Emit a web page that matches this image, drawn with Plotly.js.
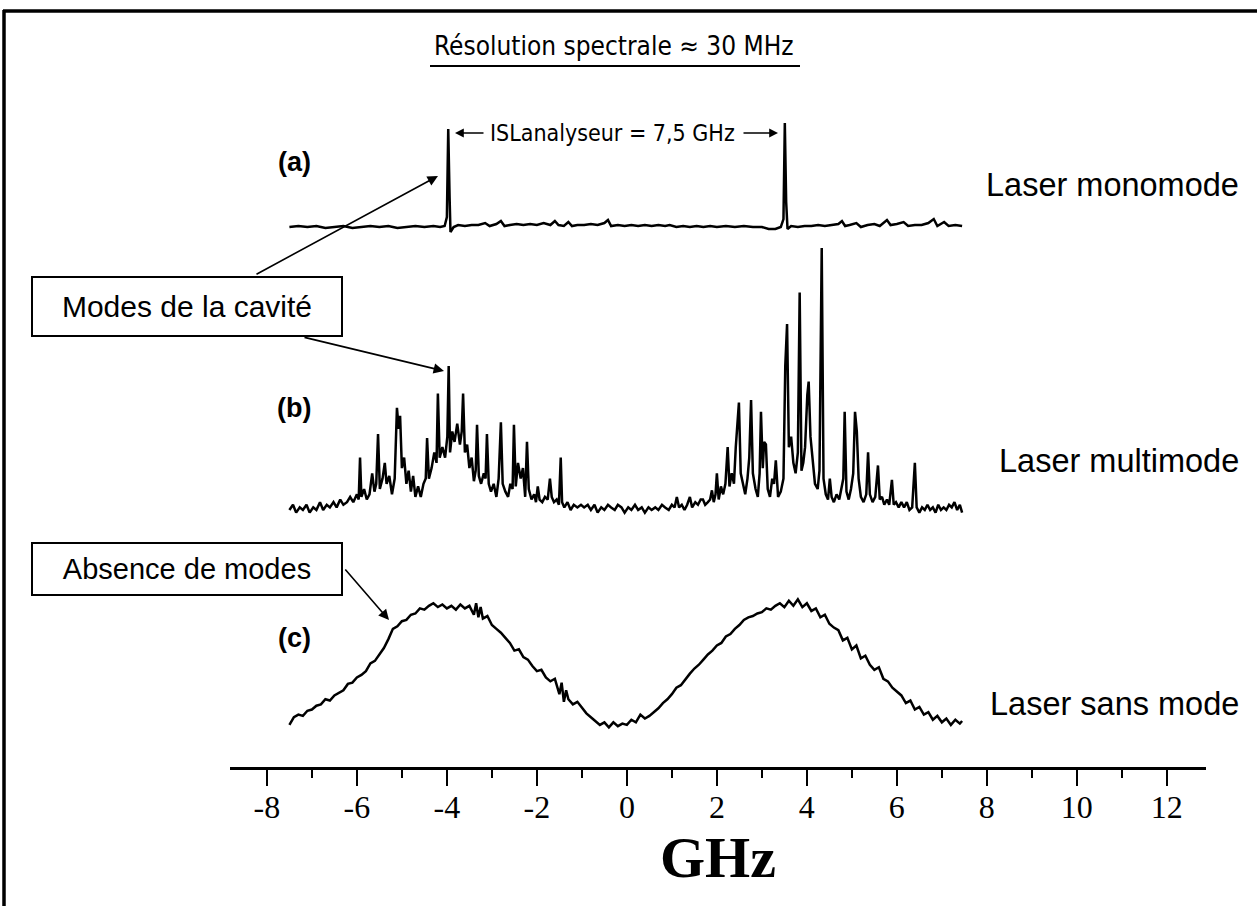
<!DOCTYPE html>
<html>
<head>
<meta charset="utf-8">
<script src="https://cdn.plot.ly/plotly-3.0.1.min.js"></script>
<style>html,body{margin:0;padding:0;background:#fff;}#chart{width:1257px;height:906px;}</style>
</head>
<body>
<div id="chart"></div>
<script>
// ---- Data (frequency in GHz, relative intensity) ----
const tickVals = [-8, -6, -4, -2, 0, 2, 4, 6, 8, 10, 12];
const tickText = ['-8', '-6', '-4', '-2', '0', '2', '4', '6', '8', '10', '12'];
const minorVals = [-7, -5, -3, -1, 1, 3, 5, 7, 9, 11];

const seriesNames = ['Laser monomode', 'Laser multimode', 'Laser sans mode'];
const panelLabels = ['(a)', '(b)', '(c)'];

// (a) single-mode laser
const specA = [
[-7.5,0.00],[-7.3,0.01],[-7.1,0.00],[-6.9,0.01],[-6.7,-0.01],[-6.5,0.00],[-6.3,0.01],[-6.1,-0.01],
[-5.9,0.00],[-5.7,0.01],[-5.5,0.00],[-5.3,0.01],[-5.1,-0.01],[-4.9,0.00],[-4.7,0.01],[-4.5,0.00],
[-4.3,0.01],[-4.15,0.00],[-4.05,0.01],[-4.0,0.10],[-3.97,0.98],[-3.94,0.30],[-3.92,-0.05],[-3.85,0.00],
[-3.75,0.02],[-3.6,0.01],[-3.45,0.02],[-3.3,0.02],[-3.15,0.04],[-3.05,0.01],[-2.9,0.03],[-2.8,0.06],
[-2.72,0.01],[-2.6,0.02],[-2.45,0.03],[-2.3,0.02],[-2.15,0.03],[-2.0,0.02],[-1.85,0.04],[-1.7,0.02],
[-1.6,0.06],[-1.52,0.02],[-1.4,0.01],[-1.3,0.05],[-1.22,0.01],[-1.1,0.02],[-0.95,0.02],[-0.8,0.03],
[-0.65,0.02],[-0.5,0.04],[-0.42,0.07],[-0.35,0.01],[-0.2,0.02],[-0.05,0.01],[0.1,0.02],[0.25,0.01],
[0.4,0.02],[0.55,0.01],[0.7,0.02],[0.85,0.01],[0.95,0.02],[1.1,0.00],[1.25,0.01],[1.4,0.00],
[1.55,0.01],[1.7,0.00],[1.85,0.01],[2.0,0.00],[2.2,0.01],[2.4,0.00],[2.6,0.01],[2.8,0.00],
[3.0,0.00],[3.15,-0.02],[3.3,-0.02],[3.42,0.00],[3.48,0.08],[3.51,1.04],[3.54,0.25],[3.57,-0.02],
[3.65,0.01],[3.8,0.00],[3.95,0.01],[4.1,0.01],[4.25,0.02],[4.4,0.01],[4.55,0.02],[4.7,0.03],
[4.78,0.06],[4.85,0.01],[4.95,0.02],[5.1,0.04],[5.2,0.00],[5.35,0.02],[5.5,0.03],[5.62,0.01],
[5.78,0.07],[5.86,0.02],[6.0,0.03],[6.15,0.05],[6.25,0.01],[6.4,0.02],[6.55,0.02],[6.7,0.04],
[6.82,0.08],[6.9,0.01],[7.05,0.05],[7.15,0.01],[7.3,0.02],[7.45,0.01]
];

// (b) multimode laser
const specB = [
[-7.5,0.00],[-7.42,0.02],[-7.35,-0.01],[-7.27,0.01],[-7.2,0.00],[-7.12,0.02],[-7.05,-0.01],[-6.97,0.01],
[-6.9,0.00],[-6.82,0.03],[-6.75,0.00],[-6.67,0.02],[-6.6,0.01],[-6.52,0.03],[-6.45,0.01],[-6.37,0.04],
[-6.3,0.02],[-6.22,0.03],[-6.15,0.05],[-6.08,0.03],[-6.0,0.06],[-5.96,0.04],[-5.93,0.20],[-5.9,0.05],
[-5.84,0.08],[-5.78,0.04],[-5.72,0.06],[-5.66,0.14],[-5.61,0.07],[-5.57,0.10],[-5.53,0.29],[-5.49,0.08],
[-5.43,0.12],[-5.38,0.18],[-5.34,0.10],[-5.28,0.13],[-5.22,0.06],[-5.16,0.12],[-5.11,0.39],[-5.07,0.31],
[-5.04,0.36],[-5.0,0.16],[-4.95,0.20],[-4.9,0.10],[-4.85,0.15],[-4.8,0.07],[-4.75,0.13],[-4.7,0.05],
[-4.64,0.09],[-4.58,0.05],[-4.52,0.10],[-4.47,0.12],[-4.44,0.275],[-4.4,0.12],[-4.34,0.16],[-4.28,0.22],
[-4.23,0.18],[-4.2,0.445],[-4.16,0.20],[-4.1,0.24],[-4.04,0.20],[-3.99,0.28],[-3.96,0.55],[-3.93,0.22],
[-3.88,0.30],[-3.83,0.26],[-3.77,0.33],[-3.71,0.25],[-3.67,0.30],[-3.64,0.445],[-3.6,0.22],[-3.55,0.25],
[-3.5,0.16],[-3.45,0.20],[-3.4,0.11],[-3.36,0.15],[-3.33,0.325],[-3.29,0.13],[-3.24,0.10],[-3.18,0.14],
[-3.14,0.12],[-3.11,0.29],[-3.07,0.10],[-3.02,0.07],[-2.96,0.10],[-2.9,0.05],[-2.85,0.12],[-2.8,0.335],
[-2.76,0.10],[-2.7,0.07],[-2.64,0.05],[-2.59,0.10],[-2.54,0.08],[-2.51,0.325],[-2.47,0.09],[-2.42,0.18],
[-2.36,0.12],[-2.31,0.16],[-2.26,0.05],[-2.22,0.26],[-2.18,0.08],[-2.12,0.04],[-2.06,0.06],[-2.02,0.03],
[-1.98,0.09],[-1.94,0.04],[-1.88,0.03],[-1.82,0.05],[-1.76,0.04],[-1.71,0.12],[-1.67,0.05],[-1.62,0.03],
[-1.56,0.04],[-1.51,0.02],[-1.47,0.20],[-1.44,0.03],[-1.39,0.01],[-1.32,0.03],[-1.25,0.00],[-1.18,0.02],
[-1.1,0.01],[-1.02,0.02],[-0.95,0.01],[-0.87,0.02],[-0.8,0.00],[-0.72,0.02],[-0.65,-0.01],[-0.57,0.01],
[-0.5,0.00],[-0.42,0.02],[-0.35,0.01],[-0.27,0.00],[-0.2,0.02],[-0.12,0.01],[-0.05,-0.01],[0.03,0.01],
[0.1,0.00],[0.18,0.02],[0.25,0.00],[0.33,0.01],[0.4,-0.01],[0.48,0.01],[0.55,0.00],[0.63,0.01],
[0.7,0.00],[0.78,0.02],[0.85,0.01],[0.93,0.00],[1.0,0.02],[1.06,0.01],[1.11,0.05],[1.16,0.01],
[1.22,0.02],[1.28,0.00],[1.34,0.02],[1.4,0.05],[1.45,0.01],[1.52,0.03],[1.58,0.02],[1.64,0.04],
[1.69,0.04],[1.74,0.02],[1.8,0.03],[1.85,0.04],[1.89,0.075],[1.93,0.03],[1.97,0.06],[2.0,0.14],
[2.04,0.04],[2.09,0.09],[2.14,0.06],[2.19,0.10],[2.24,0.24],[2.28,0.09],[2.33,0.14],[2.38,0.10],
[2.42,0.24],[2.45,0.30],[2.49,0.41],[2.53,0.14],[2.58,0.10],[2.63,0.06],[2.68,0.12],[2.72,0.20],
[2.76,0.42],[2.8,0.14],[2.86,0.08],[2.91,0.05],[2.95,0.14],[2.98,0.375],[3.02,0.16],[3.05,0.26],
[3.09,0.25],[3.13,0.08],[3.18,0.05],[3.23,0.12],[3.27,0.10],[3.31,0.19],[3.36,0.05],[3.42,0.07],
[3.48,0.12],[3.52,0.55],[3.56,0.71],[3.6,0.24],[3.65,0.28],[3.7,0.18],[3.75,0.14],[3.8,0.22],
[3.84,0.83],[3.88,0.15],[3.92,0.18],[3.96,0.24],[4.01,0.44],[4.04,0.49],[4.08,0.28],[4.13,0.20],
[4.18,0.10],[4.24,0.08],[4.28,0.15],[4.33,1.00],[4.37,0.12],[4.42,0.06],[4.47,0.04],[4.51,0.12],
[4.55,0.05],[4.6,0.03],[4.66,0.06],[4.72,0.04],[4.77,0.08],[4.81,0.12],[4.84,0.375],[4.88,0.07],
[4.93,0.04],[4.98,0.08],[5.03,0.14],[5.07,0.375],[5.11,0.30],[5.15,0.12],[5.2,0.05],[5.26,0.03],
[5.32,0.06],[5.36,0.22],[5.4,0.06],[5.46,0.03],[5.52,0.05],[5.58,0.17],[5.62,0.04],[5.67,0.05],
[5.72,0.02],[5.78,0.04],[5.83,0.02],[5.89,0.115],[5.93,0.02],[5.98,0.03],[6.04,0.01],[6.1,0.03],
[6.16,0.01],[6.22,0.03],[6.28,0.00],[6.34,0.01],[6.40,0.18],[6.44,0.01],[6.5,-0.01],[6.56,0.01],
[6.62,0.00],[6.68,0.02],[6.74,0.00],[6.8,0.01],[6.86,-0.01],[6.92,0.02],[6.98,0.00],[7.04,0.01],
[7.1,0.00],[7.16,0.02],[7.22,0.01],[7.28,0.03],[7.34,0.00],[7.4,0.02],[7.45,-0.01]
];

// (c) mode-less laser
const specC = [
[-7.5,0.04],[-7.4,0.10],[-7.3,0.12],[-7.2,0.11],[-7.1,0.15],[-7.0,0.16],[-6.9,0.19],[-6.8,0.20],
[-6.7,0.24],[-6.6,0.23],[-6.5,0.27],[-6.4,0.29],[-6.3,0.31],[-6.2,0.36],[-6.1,0.37],[-6.0,0.41],
[-5.9,0.43],[-5.8,0.46],[-5.7,0.52],[-5.6,0.54],[-5.5,0.59],[-5.4,0.64],[-5.3,0.71],[-5.2,0.79],
[-5.1,0.81],[-5.0,0.85],[-4.9,0.86],[-4.8,0.90],[-4.7,0.91],[-4.6,0.95],[-4.5,0.94],[-4.4,0.97],
[-4.3,0.99],[-4.2,0.96],[-4.1,0.98],[-4.0,0.95],[-3.9,0.97],[-3.8,0.94],[-3.7,0.98],[-3.6,0.95],
[-3.5,0.97],[-3.4,0.90],[-3.35,0.99],[-3.3,0.88],[-3.25,0.96],[-3.2,0.87],[-3.1,0.89],[-3.0,0.82],
[-2.9,0.79],[-2.8,0.76],[-2.7,0.72],[-2.6,0.68],[-2.5,0.62],[-2.4,0.63],[-2.3,0.57],[-2.2,0.55],
[-2.1,0.50],[-2.0,0.46],[-1.9,0.47],[-1.8,0.41],[-1.7,0.38],[-1.6,0.40],[-1.5,0.28],[-1.45,0.37],
[-1.4,0.22],[-1.35,0.31],[-1.3,0.24],[-1.2,0.20],[-1.1,0.22],[-1.0,0.17],[-0.9,0.13],[-0.8,0.10],
[-0.7,0.07],[-0.6,0.04],[-0.5,0.06],[-0.4,0.02],[-0.3,0.06],[-0.2,0.03],[-0.1,0.05],[0.0,0.04],
[0.1,0.08],[0.2,0.06],[0.3,0.12],[0.4,0.09],[0.5,0.11],[0.6,0.14],[0.7,0.17],[0.8,0.21],
[0.9,0.24],[1.0,0.28],[1.1,0.33],[1.2,0.35],[1.3,0.40],[1.4,0.44],[1.5,0.48],[1.6,0.51],
[1.7,0.55],[1.8,0.59],[1.9,0.62],[2.0,0.66],[2.1,0.68],[2.2,0.73],[2.3,0.75],[2.4,0.79],
[2.5,0.82],[2.6,0.86],[2.7,0.88],[2.8,0.89],[2.9,0.91],[3.0,0.92],[3.1,0.95],[3.2,0.94],
[3.3,0.97],[3.4,0.99],[3.5,0.96],[3.6,1.01],[3.7,0.97],[3.8,1.02],[3.9,0.96],[4.0,0.99],
[4.1,0.93],[4.2,0.95],[4.3,0.88],[4.4,0.90],[4.5,0.83],[4.6,0.80],[4.7,0.78],[4.8,0.70],
[4.9,0.72],[5.0,0.63],[5.1,0.66],[5.2,0.56],[5.3,0.58],[5.4,0.51],[5.5,0.47],[5.6,0.49],
[5.7,0.40],[5.8,0.38],[5.9,0.33],[6.0,0.30],[6.1,0.27],[6.2,0.21],[6.3,0.23],[6.4,0.16],
[6.5,0.18],[6.6,0.12],[6.7,0.14],[6.8,0.08],[6.9,0.11],[7.0,0.06],[7.1,0.09],[7.2,0.04],
[7.3,0.08],[7.4,0.05],[7.45,0.07]
];

// ---- Figure ----
const lineStyle = {color: '#000', width: 2.5};
const mk = (spec, ax, name) => ({
  x: spec.map(p => p[0]), y: spec.map(p => p[1]),
  type: 'scatter', mode: 'lines', line: lineStyle, xaxis: 'x', yaxis: ax, name: name,
  hoverinfo: 'skip'
});
// (c) sits on the bottom axis 'y' so the x axis is drawn at the bottom of the plot area
const traces = [mk(specC, 'y', seriesNames[2]), mk(specA, 'y2', seriesNames[0]), mk(specB, 'y3', seriesNames[1])];

const sans = 'Liberation Sans, Arial, sans-serif';
const narrow = 'DejaVu Sans Condensed, Liberation Sans Narrow, Arial Narrow, sans-serif';
const serif = 'Liberation Serif, Times New Roman, serif';

// helpers mapping page pixels to paper coordinates (plot area 230..1206 x 0..767)
const PX = v => (v - 230) / 976;
const PY = v => (767 - v) / 767;

const txt = (xp, yp, text, font, extra) => Object.assign({xref:'paper', yref:'paper', x:PX(xp), y:PY(yp),
  xanchor:'center', yanchor:'middle', text:text, showarrow:false, font:font}, extra || {});
const arrow = (xp, yp, ax, ay, size) => ({xref:'paper', yref:'paper', x:PX(xp), y:PY(yp), ax:ax, ay:ay,
  text:'', showarrow:true, arrowhead:2, arrowsize:size, arrowwidth:1.6, arrowcolor:'#000', standoff:0, startstandoff:0});

const ann = [];
ann.push(txt(614, 46, 'Résolution spectrale ≈ 30 MHz', {family:narrow, size:26, color:'#000'}));
ann.push(txt(612, 133, 'ISLanalyseur = 7,5 GHz', {family:narrow, size:23, color:'#000'}));
ann.push(arrow(455, 133, 30, 0, 1.1));
ann.push(arrow(778, 133, -36, 0, 1.1));
[162, 408, 638].forEach((y, i) => {
  ann.push(txt(294, y, '<b>' + panelLabels[i] + '</b>', {family:sans, size:27, color:'#000'}));
});
[185, 461, 704].forEach((y, i) => {
  ann.push(txt(1241, y, seriesNames[i], {family:sans, size:32.5, color:'#000'}, {xanchor:'right'}));
});
ann.push(txt(186.5, 306, 'Modes de la cavité', {family:sans, size:30, color:'#000'},
  {bordercolor:'#000', borderwidth:2, borderpad:4, width:300, height:49, bgcolor:'#fff'}));
ann.push(txt(186.5, 569, 'Absence de modes', {family:sans, size:29, color:'#000'},
  {bordercolor:'#000', borderwidth:2, borderpad:4, width:300, height:42, bgcolor:'#fff'}));
ann.push(arrow(438, 176, -183, 99, 1.3));
ann.push(arrow(444, 371, -141, -34, 1.3));
ann.push(arrow(389, 620, -45, -52, 1.3));

const shapes = [
  {type:'line', xref:'paper', yref:'paper', x0:PX(430), x1:PX(800), y0:PY(66), y1:PY(66),
   line:{color:'#000', width:2}},
  {type:'line', xref:'paper', yref:'paper', x0:PX(4), x1:PX(4), y0:PY(10), y1:PY(906),
   line:{color:'#000', width:3.5}},
  {type:'line', xref:'paper', yref:'paper', x0:PX(3), x1:PX(1257), y0:PY(11), y1:PY(11),
   line:{color:'#000', width:3.5}}
];

const hiddenY = (dom, rng) => ({domain:dom, range:rng, visible:false, fixedrange:true, anchor:'x'});

const layout = {
  width:1257, height:906,
  margin:{l:230, r:51, t:0, b:139, pad:0},
  paper_bgcolor:'#fff', plot_bgcolor:'#fff',
  showlegend:false,
  xaxis:{
    anchor:'y', automargin:false, domain:[0, 1],
    range:[-8.82, 12.87], showgrid:false, zeroline:false,
    showline:true, linecolor:'#000', linewidth:2.5,
    ticks:'outside', ticklen:16, tickwidth:2, tickcolor:'#000',
    tickmode:'array', tickvals:tickVals, ticktext:tickText, showticklabels:true,
    ticklabelstandoff:-6,
    tickfont:{family:serif, size:32, color:'#000'},
    minor:{tickmode:'array', tickvals:minorVals, ticks:'outside', ticklen:8, tickwidth:2, tickcolor:'#000', showgrid:false},
    title:{text:'<b>GHz</b>', font:{family:serif, size:58, color:'#000'}, standoff:6},
    fixedrange:true
  },
  yaxis: hiddenY([0, 0.2402], [-0.289, 1.15]),
  yaxis2: hiddenY([0.6649, 0.8735], [-0.3, 1.3]),
  yaxis3: hiddenY([0.3009, 0.6937], [-0.1, 1.05]),
  annotations: ann,
  shapes: shapes
};

Plotly.newPlot('chart', traces, layout, {displayModeBar:false, staticPlot:true});
</script>
</body>
</html>
